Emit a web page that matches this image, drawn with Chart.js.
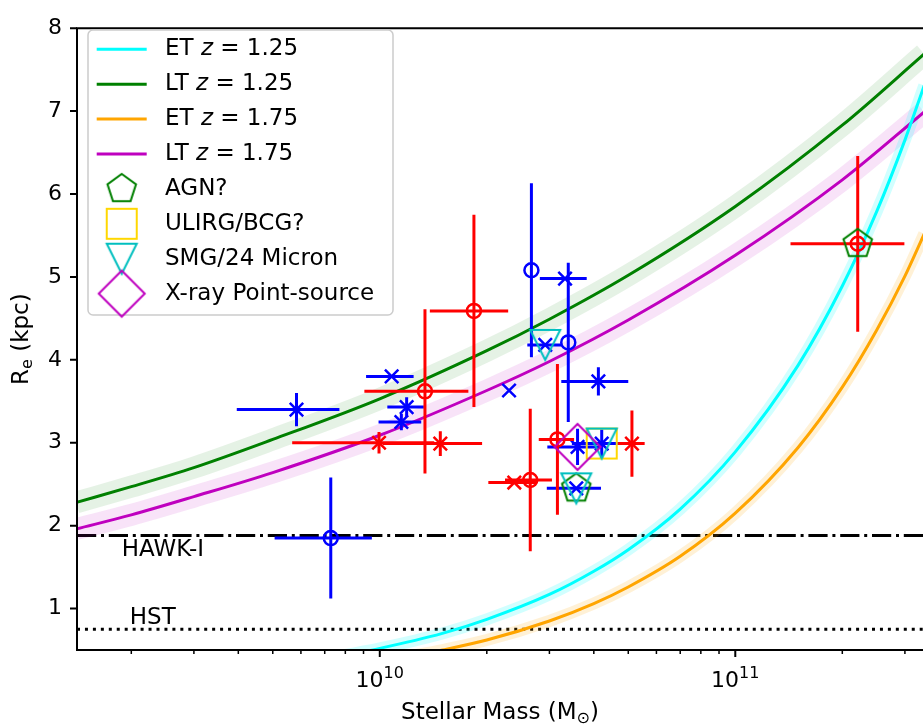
<!DOCTYPE html>
<html>
<head>
<meta charset="utf-8">
<script src="https://cdn.jsdelivr.net/npm/chart.js@4.4.0/dist/chart.umd.min.js"></script>
<style>
  html, body { margin: 0; padding: 0; background: #fff; }
  #sizeChart { display: block; }
</style>
</head>
<body>
<canvas id="sizeChart" width="923" height="727"></canvas>
<script>
// model size-mass relations (R_e in kpc)
const ltMass = [1.4e9, 2e9, 3e9, 5e9, 1e10, 2e10, 3e10, 5e10, 1e11, 2e11, 3.4e11];
const ltZ125 = [2.28, 2.47, 2.70, 3.04, 3.53, 4.11, 4.49, 5.02, 5.85, 6.83, 7.69];
const ltZ175 = [1.96, 2.13, 2.35, 2.64, 3.09, 3.63, 3.98, 4.48, 5.26, 6.17, 6.99];

const etMass125 = [8e9, 1e10, 1.5e10, 2e10, 3e10, 4e10, 5e10, 7e10, 1e11, 1.5e11, 2e11, 2.5e11, 3e11, 3.4e11];
const etZ125 = [0.44, 0.52, 0.70, 0.87, 1.17, 1.45, 1.71, 2.20, 2.89, 3.93, 4.89, 5.79, 6.65, 7.31];
const etMass175 = [1.2e10, 1.5e10, 2e10, 3e10, 4e10, 5e10, 7e10, 1e11, 1.5e11, 2e11, 2.5e11, 3e11, 3.4e11];
const etZ175 = [0.42, 0.50, 0.62, 0.85, 1.06, 1.26, 1.63, 2.15, 2.94, 3.67, 4.36, 5.01, 5.52];

// galaxies: blue crosses / circles, red crosses / circles
const blueXMass = [5.83e9, 1.08e10, 1.19e10, 1.15e10, 2.31e10, 3.32e10, 2.92e10, 4.12e10, 3.60e10, 4.21e10, 3.57e10];
const blueXRe = [3.40, 3.80, 3.43, 3.25, 3.63, 4.98, 4.18, 3.74, 2.95, 2.99, 2.45];
const blueXMassErr = [1.87e9, 1.65e9, 1.4e9, 1.58e9, 0, 0.5e10, 0.32e10, 0.88e10, 0.64e10, 0.74e10, 0.62e10];
const blueXReErr = [0.20, 0, 0.12, 0.10, 0, 0, 0, 0.17, 0.22, 0.17, 0];

const blueOMass = [2.67e10, 3.39e10, 7.28e9];
const blueORe = [5.08, 4.21, 1.85];
const blueOMassErr = [0, 0, 2.22e9];
const blueOReErr = [1.05, 0.96, 0.73];

const redXMass = [9.95e9, 1.48e10, 2.39e10, 5.12e10];
const redXRe = [3.00, 2.99, 2.52, 2.99];
const redXMassErr = [4.28e9, 0.46e10, 0.37e10, 0.44e10];
const redXReErr = [0.13, 0.15, 0, 0.40];

const redOMass = [1.34e10, 1.84e10, 2.65e10, 3.16e10, 2.21e11];
const redORe = [3.62, 4.59, 2.55, 3.04, 5.40];
const redOMassErr = [4.35e9, 4.57e9, 0.4e10, 0.36e10, 7.8e10];
const redOReErr = [0.99, 1.16, 0.86, 0.91, 1.06];

// flagged objects
const agnMass = [2.21e11, 3.57e10];
const agnRe = [5.40, 2.45];
const ulirgMass = [4.21e10];
const ulirgRe = [2.99];
const smgMass = [2.92e10, 4.21e10, 3.57e10];
const smgRe = [4.18, 2.99, 2.45];
const xrayMass = [3.60e10];
const xrayRe = [2.95];

// resolution limits
const hawkRe = 1.88;
const hstRe = 0.75;
const hawkLabelAt = [1.88e9, 1.63];
const hstLabelAt = [1.98e9, 0.81];

// axes
const xMin = 1.407e9, xMax = 3.373e11;
const yMin = 0.5, yMax = 8;
const yTicks = [1, 2, 3, 4, 5, 6, 7, 8];
const xMajorTicks = [1e10, 1e11];
const xTickExponents = ["10", "11"];
const xMinorTicks = [2e9, 3e9, 4e9, 5e9, 6e9, 7e9, 8e9, 9e9, 2e10, 3e10, 4e10, 5e10, 6e10, 7e10, 8e10, 9e10, 2e11, 3e11];

const FONT = "'DejaVu Sans', 'Liberation Sans', sans-serif";

const pts = (xs, ys) => xs.map((x, i) => ({x: x, y: ys[i]}));

function markerCanvas(kind, half, color) {
  const size = Math.ceil(2 * half + 6);
  const c = document.createElement("canvas");
  c.width = size; c.height = size;
  const g = c.getContext("2d");
  const m = size / 2;
  g.strokeStyle = color;
  g.lineWidth = 2;
  g.beginPath();
  if (kind === "pentagon") {
    for (let k = 0; k < 5; k++) {
      const a = -Math.PI / 2 + k * 2 * Math.PI / 5;
      g.lineTo(m + half * Math.cos(a), m + half * Math.sin(a));
    }
  } else if (kind === "square") {
    g.rect(m - half, m - half, 2 * half, 2 * half);
  } else if (kind === "tri_down") {
    g.moveTo(m - half, m - half);
    g.lineTo(m + half, m - half);
    g.lineTo(m, m + half);
  } else if (kind === "diamond") {
    g.moveTo(m, m - half);
    g.lineTo(m + half, m);
    g.lineTo(m, m + half);
    g.lineTo(m - half, m);
  }
  g.closePath();
  g.stroke();
  return c;
}

const pentagonImg = markerCanvas("pentagon", 15, "#008000");
const squareImg = markerCanvas("square", 15, "#ffd700");
const triImg = markerCanvas("tri_down", 15, "#00bfbf");
const diamondImg = markerCanvas("diamond", 23, "#bf00bf");

function curve(label, xs, ys, color, band, bandWidth, order) {
  return [{
    label: label, data: pts(xs, ys), showLine: true, pointRadius: 0,
    borderColor: color, borderWidth: 3, cubicInterpolationMode: "monotone",
    clip: 0, order: order
  }, {
    data: pts(xs, ys), showLine: true, pointRadius: 0,
    borderColor: band, borderWidth: bandWidth, cubicInterpolationMode: "monotone",
    clip: 0, order: order + 10
  }];
}

function points(xs, ys, xe, ye, style, color, radius, order) {
  return {
    data: pts(xs, ys), xErr: xe, yErr: ye, pointStyle: style, pointRadius: radius,
    borderColor: color, backgroundColor: "rgba(0,0,0,0)", pointBorderWidth: 2.5,
    errColor: color, order: order
  };
}

function flagged(xs, ys, img, order) {
  return {data: pts(xs, ys), pointStyle: img, pointRadius: 10, order: order};
}

const datasets = [
  ...curve("ET", etMass125, etZ125, "#00ffff", "rgba(0,255,255,0.18)", 12, 40),
  ...curve("LT", ltMass, ltZ125, "#008000", "rgba(0,128,0,0.10)", 22, 41),
  ...curve("ET", etMass175, etZ175, "#ffa500", "rgba(255,165,0,0.16)", 12, 42),
  ...curve("LT", ltMass, ltZ175, "#bf00bf", "rgba(191,0,191,0.11)", 22, 43),
  points(blueXMass, blueXRe, blueXMassErr, blueXReErr, "crossRot", "#0000ff", 9.5, 30),
  points(blueOMass, blueORe, blueOMassErr, blueOReErr, "circle", "#0000ff", 7, 29),
  points(redXMass, redXRe, redXMassErr, redXReErr, "crossRot", "#ff0000", 9.5, 28),
  points(redOMass, redORe, redOMassErr, redOReErr, "circle", "#ff0000", 7, 27),
  flagged(agnMass, agnRe, pentagonImg, 13),
  flagged(ulirgMass, ulirgRe, squareImg, 12),
  flagged(smgMass, smgRe, triImg, 11),
  flagged(xrayMass, xrayRe, diamondImg, 10)
];

const errorBars = {
  id: "errorBars",
  beforeDatasetDraw(chart, args) {
    const ds = chart.data.datasets[args.index];
    if (!ds.xErr) return;
    const ctx = chart.ctx, xs = chart.scales.x, ys = chart.scales.y, a = chart.chartArea;
    ctx.save();
    ctx.beginPath();
    ctx.rect(a.left, a.top, a.right - a.left, a.bottom - a.top);
    ctx.clip();
    ctx.strokeStyle = ds.errColor;
    ctx.lineWidth = 3;
    ds.data.forEach((p, i) => {
      const px = xs.getPixelForValue(p.x), py = ys.getPixelForValue(p.y);
      ctx.beginPath();
      if (ds.xErr[i] > 0) {
        ctx.moveTo(xs.getPixelForValue(p.x - ds.xErr[i]), py);
        ctx.lineTo(xs.getPixelForValue(p.x + ds.xErr[i]), py);
      }
      if (ds.yErr[i] > 0) {
        ctx.moveTo(px, ys.getPixelForValue(p.y - ds.yErr[i]));
        ctx.lineTo(px, ys.getPixelForValue(p.y + ds.yErr[i]));
      }
      ctx.stroke();
    });
    ctx.restore();
  }
};

const limitLines = {
  id: "limitLines",
  beforeDatasetsDraw(chart) {
    const ctx = chart.ctx, xs = chart.scales.x, ys = chart.scales.y, a = chart.chartArea;
    ctx.save();
    ctx.strokeStyle = "#000";
    ctx.lineWidth = 3;
    ctx.lineCap = "butt";
    ctx.setLineDash([19.2, 4.8, 3, 4.8]);
    ctx.beginPath();
    ctx.moveTo(a.left, ys.getPixelForValue(hawkRe));
    ctx.lineTo(a.right, ys.getPixelForValue(hawkRe));
    ctx.stroke();
    ctx.setLineDash([3, 4.95]);
    ctx.beginPath();
    ctx.moveTo(a.left, ys.getPixelForValue(hstRe));
    ctx.lineTo(a.right, ys.getPixelForValue(hstRe));
    ctx.stroke();
    ctx.setLineDash([]);
    ctx.fillStyle = "#000";
    ctx.font = "23px " + FONT;
    ctx.textBaseline = "alphabetic";
    ctx.fillText("HAWK-I", xs.getPixelForValue(hawkLabelAt[0]), ys.getPixelForValue(hawkLabelAt[1]));
    ctx.fillText("HST", xs.getPixelForValue(hstLabelAt[0]), ys.getPixelForValue(hstLabelAt[1]));
    ctx.restore();
  }
};

const frame = {
  id: "frame",
  afterDraw(chart) {
    const ctx = chart.ctx, xs = chart.scales.x, ys = chart.scales.y, a = chart.chartArea;
    ctx.save();
    ctx.strokeStyle = "#000";
    ctx.lineWidth = 2;
    ctx.beginPath();
    ctx.moveTo(a.right + 2, a.top);
    ctx.lineTo(a.left, a.top);
    ctx.lineTo(a.left, a.bottom);
    ctx.lineTo(a.right + 2, a.bottom);
    ctx.stroke();

    ctx.beginPath();
    yTicks.forEach(v => {
      const y = ys.getPixelForValue(v);
      ctx.moveTo(a.left - 7, y);
      ctx.lineTo(a.left, y);
    });
    xMajorTicks.forEach(v => {
      const x = xs.getPixelForValue(v);
      ctx.moveTo(x, a.bottom);
      ctx.lineTo(x, a.bottom + 7);
    });
    ctx.stroke();
    ctx.lineWidth = 1.5;
    ctx.beginPath();
    xMinorTicks.forEach(v => {
      const x = xs.getPixelForValue(v);
      ctx.moveTo(x, a.bottom);
      ctx.lineTo(x, a.bottom + 4);
    });
    ctx.stroke();

    // x tick labels 10^n
    ctx.fillStyle = "#000";
    ctx.textBaseline = "alphabetic";
    xMajorTicks.forEach((v, i) => {
      const x = xs.getPixelForValue(v);
      ctx.font = "22px " + FONT;
      const wBase = ctx.measureText("10").width;
      ctx.font = "16px " + FONT;
      const wExp = ctx.measureText(xTickExponents[i]).width;
      const left = x - (wBase + wExp) / 2;
      ctx.font = "22px " + FONT;
      ctx.fillText("10", left, a.bottom + 37);
      ctx.font = "16px " + FONT;
      ctx.fillText(xTickExponents[i], left + wBase, a.bottom + 28);
    });

    // x axis title with subscript sun
    const xTitle = "Stellar Mass (M";
    ctx.font = "23px " + FONT;
    const w1 = ctx.measureText(xTitle).width;
    const w3 = ctx.measureText(")").width;
    ctx.font = "16px " + FONT;
    const w2 = ctx.measureText("\u2299").width;
    const cx = (a.left + a.right) / 2;
    let tx = cx - (w1 + w2 + w3) / 2;
    const base = 719;
    ctx.font = "23px " + FONT;
    ctx.fillText(xTitle, tx, base);
    ctx.font = "16px " + FONT;
    ctx.fillText("\u2299", tx + w1, base + 4);
    ctx.font = "23px " + FONT;
    ctx.fillText(")", tx + w1 + w2, base);

    // y axis title R_e (kpc)
    ctx.save();
    ctx.translate(28, (a.top + a.bottom) / 2);
    ctx.rotate(-Math.PI / 2);
    ctx.font = "23px " + FONT;
    const r1 = ctx.measureText("R").width;
    const r3 = ctx.measureText(" (kpc)").width;
    ctx.font = "16px " + FONT;
    const r2 = ctx.measureText("e").width;
    let ty = -(r1 + r2 + r3) / 2;
    ctx.font = "23px " + FONT;
    ctx.fillText("R", ty, 0);
    ctx.font = "16px " + FONT;
    ctx.fillText("e", ty + r1, 4);
    ctx.font = "23px " + FONT;
    ctx.fillText(" (kpc)", ty + r1 + r2, 0);
    ctx.restore();
    ctx.restore();
  }
};

const legendBox = {
  id: "legendBox",
  afterDraw(chart) {
    const ctx = chart.ctx;
    const bx = 88, by = 30, bw = 305, bh = 285, r = 5;
    ctx.save();
    ctx.beginPath();
    ctx.moveTo(bx + r, by);
    ctx.arcTo(bx + bw, by, bx + bw, by + bh, r);
    ctx.arcTo(bx + bw, by + bh, bx, by + bh, r);
    ctx.arcTo(bx, by + bh, bx, by, r);
    ctx.arcTo(bx, by, bx + bw, by, r);
    ctx.closePath();
    ctx.fillStyle = "rgba(255,255,255,0.8)";
    ctx.fill();
    ctx.strokeStyle = "#cccccc";
    ctx.lineWidth = 1.5;
    ctx.stroke();

    const rows = [
      {line: "#00ffff", pre: "ET ", z: "1.25"},
      {line: "#008000", pre: "LT ", z: "1.25"},
      {line: "#ffa500", pre: "ET ", z: "1.75"},
      {line: "#bf00bf", pre: "LT ", z: "1.75"},
      {img: pentagonImg, text: "AGN?"},
      {img: squareImg, text: "ULIRG/BCG?"},
      {img: triImg, text: "SMG/24 Micron"},
      {img: diamondImg, text: "X-ray Point-source"}
    ];
    const hx = 121.7, tx0 = 165;
    ctx.fillStyle = "#000";
    ctx.textBaseline = "middle";
    rows.forEach((row, i) => {
      const y = 49.3 + i * 34.9;
      if (row.line) {
        ctx.strokeStyle = row.line;
        ctx.lineWidth = 3;
        ctx.beginPath();
        ctx.moveTo(hx - 25, y);
        ctx.lineTo(hx + 25, y);
        ctx.stroke();
        ctx.font = "23px " + FONT;
        ctx.fillText(row.pre, tx0, y);
        let x = tx0 + ctx.measureText(row.pre).width;
        ctx.font = "italic 23px " + FONT;
        ctx.fillText("z", x, y);
        x += ctx.measureText("z").width;
        ctx.font = "23px " + FONT;
        ctx.fillText(" = " + row.z, x, y);
      } else {
        ctx.drawImage(row.img, hx - row.img.width / 2, y - row.img.height / 2);
        ctx.font = "23px " + FONT;
        ctx.fillText(row.text, tx0, y);
      }
    });
    ctx.restore();
  }
};

const chart = new Chart(document.getElementById("sizeChart").getContext("2d"), {
  type: "scatter",
  data: {datasets: datasets},
  options: {
    responsive: false,
    animation: false,
    events: [],
    layout: {autoPadding: false, padding: {top: 18, right: 0, bottom: 0, left: 0}},
    plugins: {legend: {display: false}, tooltip: {enabled: false}},
    scales: {
      x: {
        type: "logarithmic", min: xMin, max: xMax,
        grid: {display: false, drawTicks: false},
        border: {display: false},
        ticks: {display: false},
        afterFit: s => { s.height = 77; }
      },
      y: {
        type: "linear", min: yMin, max: yMax,
        grid: {display: false, drawTicks: false},
        border: {display: false},
        ticks: {color: "#000", padding: 15, font: {family: FONT, size: 22}},
        afterBuildTicks: s => { s.ticks = yTicks.map(v => ({value: v})); },
        afterFit: s => { s.width = 77; }
      }
    }
  },
  plugins: [errorBars, limitLines, frame, legendBox]
});
</script>
</body>
</html>
